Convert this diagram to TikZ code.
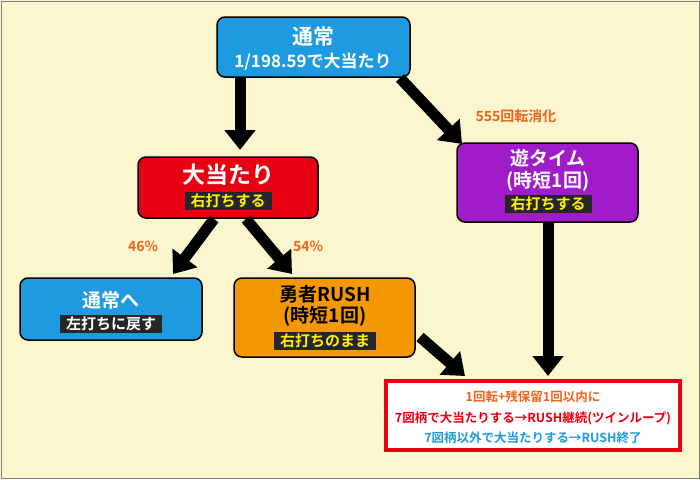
\documentclass[tikz,border=0pt]{standalone}
\usepackage{fontspec}
\setmainfont{Noto Sans CJK JP}[BoldFont={* Bold}]
\usetikzlibrary{positioning,arrows.meta}
\definecolor{bgcream}{HTML}{FCF6CF}
\definecolor{tsblue}{HTML}{1E9BE0}
\definecolor{hitred}{HTML}{E60012}
\definecolor{yupurple}{HTML}{A01CC8}
\definecolor{rushorange}{HTML}{F39800}
\definecolor{txtorange}{HTML}{F0641E}
\definecolor{bandyellow}{HTML}{FFF000}
\tikzset{
  box/.style={draw=black, line width=1.5pt, rounded corners=8pt},
  title/.style={text=white, font=\bfseries\fontsize{19}{19}\selectfont},
  band/.style={fill=black!85, text=bandyellow, font=\bfseries\fontsize{15}{15}\selectfont, inner xsep=6pt, inner ysep=2pt},
  flow/.style={line width=11pt, -{Triangle[length=20pt,width=30pt]}},
  pct/.style={text=txtorange, font=\bfseries\fontsize{14}{14}\selectfont}
}
\begin{document}
\begin{tikzpicture}[x=1pt,y=-1pt]
 \useasboundingbox (0,0) rectangle (700,479);
 \fill[bgcream] (0,0) rectangle (700,479);
 \draw[gray, line width=1pt] (1,1) rectangle (699,478);

 % boxes
 \draw[box, fill=tsblue] (217,17) rectangle (410,77);
 \node[title, font=\bfseries\fontsize{21}{21}\selectfont] (tsu) at (313,37) {通常};
 \node[title, font=\bfseries\fontsize{17}{17}\selectfont] (tsuprob) at (313,62) {1/198.59で大当たり};

 \draw[box, fill=hitred] (138,157) rectangle (318,218);
 \node[title, font=\bfseries\fontsize{23}{23}\selectfont] (hit) at (228,175) {大当たり};
 \node[band] (hitband) at (228,201) {右打ちする};

 \draw[box, fill=yupurple] (457,143) rectangle (638,222);
 \node[title] (yu) at (548,158) {遊タイム};
 \node[title] (yujitan) at (548,181) {(時短1回)};
 \node[band] (yuband) at (548,204) {右打ちする};

 \draw[box, fill=tsblue] (20,278) rectangle (202,340);
 \node[title] (back) at (111,300) {通常へ};
 \node[band, text=white] (backband) at (111,324) {左打ちに戻す};

 \draw[box, fill=rushorange] (234,278) rectangle (415,357);
 \node[title, text=black] (rush) at (325,294) {勇者RUSH};
 \node[title, text=black] (rushjitan) at (325,316) {(時短1回)};
 \node[band] (rushband) at (325,341) {右打ちのまま};

 \draw[hitred, fill=white, line width=4pt] (386,381) rectangle (680,450);
 \node[text=txtorange, font=\bfseries\fontsize{12.5}{12.5}\selectfont] (cond) at (533,397) {1回転+残保留1回以内に};
 \node[text=hitred, font=\bfseries\fontsize{12.5}{12.5}\selectfont] (cont) at (533,418) {7図柄で大当たりする→RUSH継続(ツインループ)};
 \node[text=tsblue, font=\bfseries\fontsize{12.5}{12.5}\selectfont] (fin) at (533,438) {7図柄以外で大当たりする→RUSH終了};

 % arrows
 \coordinate (a1s) at (240,78);  \coordinate (a1e) at (240,150);
 \coordinate (a2s) at (400,78);  \coordinate (a2e) at (462,144);
 \coordinate (a3s) at (214,219); \coordinate (a3e) at (173,274);
 \coordinate (a4s) at (246,219); \coordinate (a4e) at (292,274);
 \coordinate (a5s) at (420,337); \coordinate (a5e) at (465,376);
 \coordinate (a6s) at (548,223); \coordinate (a6e) at (548,376);
 \foreach \s/\e in {a1s/a1e,a2s/a2e,a3s/a3e,a4s/a4e,a5s/a5e,a6s/a6e}
   \draw[flow] (\s) -- (\e);

 \node[pct] (spins) at (516,116) {555回転消化};
 \node[pct] (p46) at (143,246) {46\%};
 \node[pct] (p54) at (308,246) {54\%};
\end{tikzpicture}
\end{document}
